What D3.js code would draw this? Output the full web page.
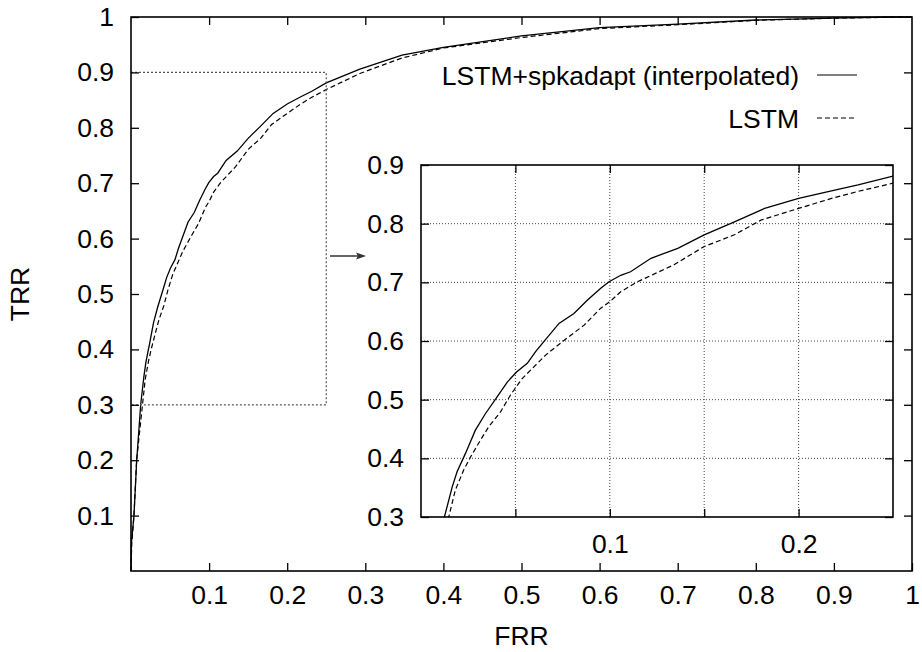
<!DOCTYPE html>
<html>
<head>
<meta charset="utf-8">
<script src="https://cdn.jsdelivr.net/npm/d3@7"></script>
<style>
  body { margin: 0; background: #fff; }
  svg text { font-family: "Liberation Sans", Arial, Helvetica, sans-serif; fill: #000; }
</style>
</head>
<body>
<svg id="drawing_region"></svg>
<script>
// LSTM+spkadapt (interpolated) - solid
const frrAdapt = [0, 0.0005, 0.0038, 0.0073, 0.0124, 0.0165, 0.0191, 0.0235, 0.0288, 0.0341, 0.0404, 0.0457, 0.0506, 0.0563, 0.0607, 0.0656, 0.0731, 0.081, 0.0882, 0.0952, 0.0996, 0.1058, 0.111, 0.1218, 0.136, 0.15, 0.166, 0.182, 0.2, 0.2174, 0.2315, 0.25, 0.293, 0.347, 0.4, 0.5, 0.6, 0.7, 0.8, 0.9, 0.97, 1];
const trrAdapt = [0, 0.05, 0.1, 0.2, 0.3, 0.351, 0.377, 0.408, 0.448, 0.476, 0.505, 0.530, 0.547, 0.562, 0.582, 0.601, 0.630, 0.647, 0.670, 0.690, 0.701, 0.712, 0.718, 0.741, 0.758, 0.781, 0.803, 0.826, 0.843, 0.856, 0.866, 0.881, 0.906, 0.931, 0.945, 0.966, 0.981, 0.987, 0.9946, 0.998, 1, 1];

// LSTM - dashed
const frrLstm = [0, 0.001, 0.0038, 0.0072, 0.0147, 0.0182, 0.0226, 0.0262, 0.0315, 0.0359, 0.0421, 0.0474, 0.0536, 0.0598, 0.066, 0.0757, 0.0864, 0.0952, 0.1, 0.1058, 0.1147, 0.134, 0.15, 0.166, 0.18, 0.2, 0.2174, 0.2315, 0.25, 0.293, 0.347, 0.4, 0.5, 0.6, 0.7, 0.8, 0.9, 1];
const trrLstm = [0, 0.05, 0.1, 0.2, 0.3, 0.346, 0.380, 0.402, 0.431, 0.454, 0.479, 0.508, 0.536, 0.556, 0.576, 0.601, 0.627, 0.656, 0.667, 0.684, 0.701, 0.73, 0.761, 0.781, 0.806, 0.826, 0.843, 0.855, 0.869, 0.898, 0.926, 0.944, 0.963, 0.979, 0.986, 0.994, 0.998, 1];

const seriesNames = ["LSTM+spkadapt (interpolated)", "LSTM"];

const mainTicks = [0.1, 0.2, 0.3, 0.4, 0.5, 0.6, 0.7, 0.8, 0.9, 1];
const insetXTicks = [0.1, 0.2];
const insetXMinor = [0.05, 0.1, 0.15, 0.2];
const insetYTicks = [0.3, 0.4, 0.5, 0.6, 0.7, 0.8, 0.9];
const zoomBox = { x0: 0, x1: 0.25, y0: 0.3, y1: 0.9 };

const adapt = frrAdapt.map((f, i) => ({ frr: f, trr: trrAdapt[i] }));
const lstm = frrLstm.map((f, i) => ({ frr: f, trr: trrLstm[i] }));

const W = 922, H = 652;
const FS = "26.5px";
const fmt = d => d === 1 ? "1" : d3.format(".1f")(d);

const svg = d3.select("#drawing_region").attr("width", W).attr("height", H);

// ---- main plot
const xscale = d3.scaleLinear().domain([0, 1]).range([131, 912]);
const yscale = d3.scaleLinear().domain([0, 1]).range([571, 17]);

const line = d3.line().x(d => xscale(d.frr)).y(d => yscale(d.trr));

svg.append("path").attr("d", line(adapt))
    .attr("fill", "none").attr("stroke", "#000").attr("stroke-width", 1.3);
svg.append("path").attr("d", line(lstm))
    .attr("fill", "none").attr("stroke", "#000").attr("stroke-width", 1.2)
    .attr("stroke-dasharray", "5,3");

// zoom rectangle (dotted)
svg.append("path")
    .attr("d", `M${xscale(zoomBox.x0)},${yscale(zoomBox.y1)} H${xscale(zoomBox.x1)} V${yscale(zoomBox.y0)} H${xscale(zoomBox.x0)}`)
    .attr("fill", "none").attr("stroke", "#555").attr("stroke-width", 1.2)
    .attr("stroke-dasharray", "2,2");

const axisStyle = g => {
    g.selectAll(".domain").remove();
    g.selectAll("line").attr("stroke", "#000").attr("stroke-width", 1.3);
    g.selectAll("text").attr("font-size", FS).attr("font-family", "Liberation Sans, Arial, sans-serif");
};

svg.append("g").attr("transform", `translate(0,${yscale(0)})`)
    .call(d3.axisBottom(xscale).tickValues(mainTicks).tickFormat(fmt).tickSize(-8).tickPadding(14))
    .call(axisStyle);
svg.append("g").attr("transform", `translate(${xscale(0)},0)`)
    .call(d3.axisLeft(yscale).tickValues(mainTicks).tickFormat(fmt).tickSize(-8).tickPadding(17))
    .call(axisStyle);
svg.append("g").attr("transform", `translate(0,${yscale(1)})`)
    .call(d3.axisTop(xscale).tickValues(mainTicks.slice(0, -1)).tickFormat("").tickSize(-8))
    .call(axisStyle);
svg.append("g").attr("transform", `translate(${xscale(1)},0)`)
    .call(d3.axisRight(yscale).tickValues(mainTicks.slice(0, -1)).tickFormat("").tickSize(-8))
    .call(axisStyle);

svg.append("rect")
    .attr("x", xscale(0)).attr("y", yscale(1))
    .attr("width", xscale(1) - xscale(0)).attr("height", yscale(0) - yscale(1))
    .attr("fill", "none").attr("stroke", "#000").attr("stroke-width", 1.6);

// axis labels
svg.append("text").attr("x", xscale(0.5)).attr("y", 645)
    .attr("text-anchor", "middle").attr("font-size", FS).text("FRR");
svg.append("text").attr("transform", `translate(29, ${yscale(0.5)}) rotate(-90)`)
    .attr("text-anchor", "middle").attr("font-size", FS).text("TRR");

// legend
const legendY = [75, 118];
seriesNames.forEach((name, i) => {
    svg.append("text").attr("x", 799).attr("y", legendY[i])
        .attr("dy", "0.36em").attr("text-anchor", "end").attr("font-size", FS).text(name);
    svg.append("line").attr("x1", 817).attr("x2", 857).attr("y1", legendY[i]).attr("y2", legendY[i])
        .attr("stroke", "#000").attr("stroke-width", 1.2)
        .attr("stroke-dasharray", i === 1 ? "5,3" : null);
});

// arrow
svg.append("line").attr("x1", 330).attr("x2", 364).attr("y1", 256).attr("y2", 256)
    .attr("stroke", "#333").attr("stroke-width", 1.3);
svg.append("path").attr("d", "M366,256 L356,252.5 L358,256 L356,259.5 Z")
    .attr("fill", "#333");

// ---- inset
const ix = d3.scaleLinear().domain([zoomBox.x0, zoomBox.x1]).range([421, 893]);
const iy = d3.scaleLinear().domain([zoomBox.y0, zoomBox.y1]).range([517, 165]);

const inset = svg.append("g");
inset.append("rect")
    .attr("x", ix.range()[0]).attr("y", iy.range()[1])
    .attr("width", ix.range()[1] - ix.range()[0]).attr("height", iy.range()[0] - iy.range()[1])
    .attr("fill", "#fff");

inset.append("defs").append("clipPath").attr("id", "insetClip")
    .append("rect")
    .attr("x", ix.range()[0]).attr("y", iy.range()[1])
    .attr("width", ix.range()[1] - ix.range()[0]).attr("height", iy.range()[0] - iy.range()[1]);

// grid
inset.selectAll(".vgrid").data(insetXMinor).enter().append("line")
    .attr("x1", d => ix(d)).attr("x2", d => ix(d))
    .attr("y1", iy.range()[0]).attr("y2", iy.range()[1])
    .attr("stroke", "#444").attr("stroke-width", 1).attr("stroke-dasharray", "1,2");
inset.selectAll(".hgrid").data(insetYTicks.slice(1, -1)).enter().append("line")
    .attr("x1", ix.range()[0]).attr("x2", ix.range()[1])
    .attr("y1", d => iy(d)).attr("y2", d => iy(d))
    .attr("stroke", "#444").attr("stroke-width", 1).attr("stroke-dasharray", "1,2");

const iline = d3.line().x(d => ix(d.frr)).y(d => iy(d.trr));
const curves = inset.append("g").attr("clip-path", "url(#insetClip)");
curves.append("path").attr("d", iline(adapt))
    .attr("fill", "none").attr("stroke", "#000").attr("stroke-width", 1.3);
curves.append("path").attr("d", iline(lstm))
    .attr("fill", "none").attr("stroke", "#000").attr("stroke-width", 1.2)
    .attr("stroke-dasharray", "5,3");

inset.append("g").attr("transform", `translate(0,${iy.range()[0]})`)
    .call(d3.axisBottom(ix).tickValues(insetXMinor).tickFormat(d => insetXTicks.includes(d) ? fmt(d) : "").tickSize(-8).tickPadding(17))
    .call(axisStyle);
inset.append("g").attr("transform", `translate(0,${iy.range()[1]})`)
    .call(d3.axisTop(ix).tickValues(insetXMinor).tickFormat("").tickSize(-8))
    .call(axisStyle);
inset.append("g").attr("transform", `translate(${ix.range()[0]},0)`)
    .call(d3.axisLeft(iy).tickValues(insetYTicks).tickFormat(fmt).tickSize(-8).tickPadding(17))
    .call(axisStyle);
inset.append("g").attr("transform", `translate(${ix.range()[1]},0)`)
    .call(d3.axisRight(iy).tickValues(insetYTicks).tickFormat("").tickSize(-8))
    .call(axisStyle);

inset.append("rect")
    .attr("x", ix.range()[0]).attr("y", iy.range()[1])
    .attr("width", ix.range()[1] - ix.range()[0]).attr("height", iy.range()[0] - iy.range()[1])
    .attr("fill", "none").attr("stroke", "#000").attr("stroke-width", 1.6);
</script>
</body>
</html>
